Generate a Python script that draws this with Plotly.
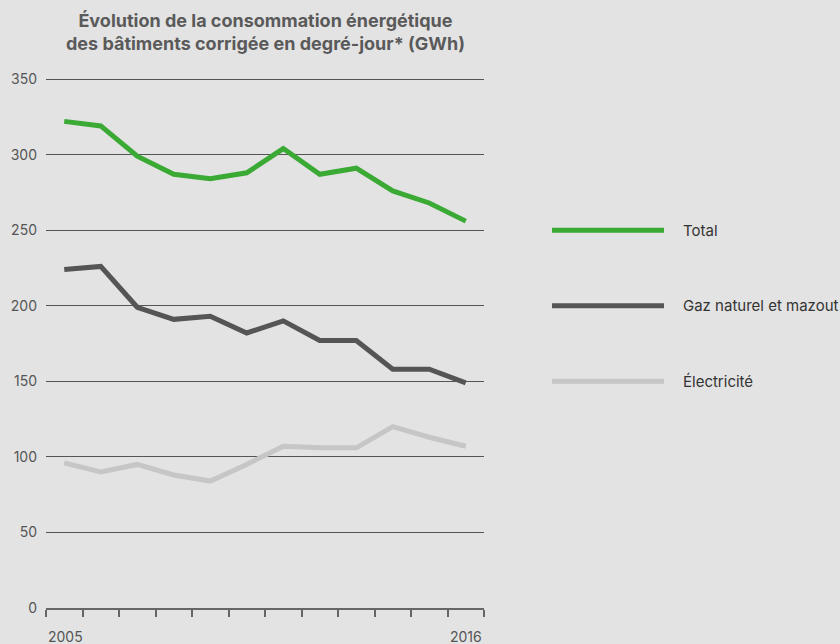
import plotly.graph_objects as go

years = list(range(2005, 2017))
total = [322, 319, 299, 287, 284, 288, 304, 287, 291, 276, 268, 256]
gaz = [224, 226, 199, 191, 193, 182, 190, 177, 177, 158, 158, 149]
elec = [96, 90, 95, 88, 84, 95, 107, 106, 106, 120, 113, 107]

names = ["Total", "Gaz naturel et mazout", "Électricité"]
colors = ["#3aaa35", "#555555", "#c6c6c6"]
legend_y = [250, 200, 150]
series = [total, gaz, elec]

FONT = "Inter"
bg = "#e3e3e3"

fig = go.Figure()
for s, n, c in zip(series, names, colors):
    fig.add_trace(go.Scatter(x=years, y=s, mode="lines", name=n,
                             line=dict(color=c, width=5), showlegend=False))

# custom legend
for n, c, ly in zip(names, colors, legend_y):
    fig.add_shape(type="line", xref="paper", yref="y", x0=1.1553, x1=1.411,
                  y0=ly, y1=ly, line=dict(color=c, width=5))
    fig.add_annotation(xref="paper", yref="y", x=1.4498, y=ly, text=n,
                       showarrow=False, xanchor="left", yanchor="middle",
                       font=dict(family=FONT, size=15, color="#333333"))

# year labels
fig.add_annotation(x=2004.5, y=0, xref="x", yref="y", text="2005", showarrow=False,
                   xanchor="left", yanchor="top", yshift=-18,
                   font=dict(family=FONT, size=14, color="#555555"))
fig.add_annotation(x=2016.5, y=0, xref="x", yref="y", text="2016", showarrow=False,
                   xanchor="right", yanchor="top", yshift=-18,
                   font=dict(family=FONT, size=14, color="#555555"))

# title
fig.add_annotation(xref="paper", yref="paper", x=0.5, y=1, yshift=22,
                   text="Évolution de la consommation énergétique<br>des bâtiments corrigée en degré-jour* (GWh)",
                   showarrow=False, xanchor="center", yanchor="bottom",
                   font=dict(family=FONT, size=18, color="#5a5a5a", weight="bold"))

fig.update_layout(
    width=840, height=644,
    margin=dict(l=46, r=356, t=78, b=36),
    paper_bgcolor=bg, plot_bgcolor=bg,
    font=dict(family=FONT, size=14, color="#555555"),
    xaxis=dict(range=[2004.5, 2016.5], tickmode="array",
               tickvals=[2004.5 + k for k in range(13)], ticktext=[""] * 13,
               showgrid=False, zeroline=False, showline=True, linecolor="#666666",
               linewidth=2, ticks="outside", ticklen=7, tickwidth=2, tickcolor="#666666"),
    yaxis=dict(range=[0, 350.7], tickvals=[0, 50, 100, 150, 200, 250, 300, 350],
               showgrid=True, gridcolor="#555555", gridwidth=1, zeroline=False,
               showline=False, ticks="", ticklabelstandoff=8,
               tickfont=dict(family=FONT, size=14, color="#555555")),
)

fig.write_html("out.html")
